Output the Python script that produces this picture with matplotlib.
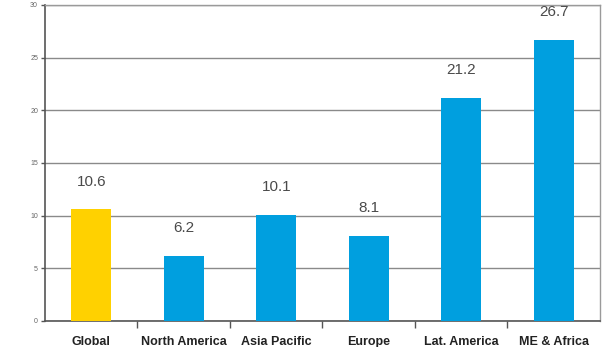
import matplotlib.pyplot as plt
from matplotlib import font_manager

regions = ["Global", "North America", "Asia Pacific", "Europe", "Lat. America", "ME & Africa"]
values = [10.6, 6.2, 10.1, 8.1, 21.2, 26.7]
colors = ["#FFD100", "#009FDF", "#009FDF", "#009FDF", "#009FDF", "#009FDF"]
yticks = [0, 5, 10, 15, 20, 25, 30]

names = {f.name for f in font_manager.fontManager.ttflist}
narrow = "Liberation Sans Narrow" if "Liberation Sans Narrow" in names else "Liberation Sans"

fig = plt.figure(figsize=(6.16, 3.47), dpi=100)
ax = fig.add_axes([0.073, 0.075, 0.901, 0.911])

x = list(range(len(regions)))
ax.bar(x, values, width=0.43, color=colors, zorder=3)
for xi, v in zip(x, values):
    ax.text(xi, v + 2.6, f"{v:.1f}", ha="center", va="center", fontsize=11,
            color="#4a4a4a", family=narrow)

ax.set_xlim(-0.5, len(regions) - 0.5)
ax.set_ylim(0, 30)
ax.set_yticks(yticks)
ax.set_yticklabels([str(t) for t in yticks], fontsize=5, color="#666666", family=narrow)
ax.yaxis.grid(True, color="#8a8a8a", linewidth=1.0, zorder=0)
ax.set_axisbelow(True)

ax.set_xticks([i + 0.5 for i in x[:-1]], minor=False)
ax.set_xticklabels([])
ax.set_xticks(x, minor=True)
ax.set_xticklabels(regions, minor=True, fontsize=9, fontweight="bold",
                   color="#222222", family=narrow)
ax.tick_params(axis="x", which="major", length=5, color="#555555", width=1)
ax.tick_params(axis="x", which="minor", length=0, pad=11)
ax.tick_params(axis="y", length=3, color="#555555", width=1, pad=2)

for side in ["left", "bottom"]:
    ax.spines[side].set_color("#555555")
    ax.spines[side].set_linewidth(1.2)
for side in ["top", "right"]:
    ax.spines[side].set_color("#9a9a9a")
    ax.spines[side].set_linewidth(1.0)

fig.savefig("out.png", dpi=100)
